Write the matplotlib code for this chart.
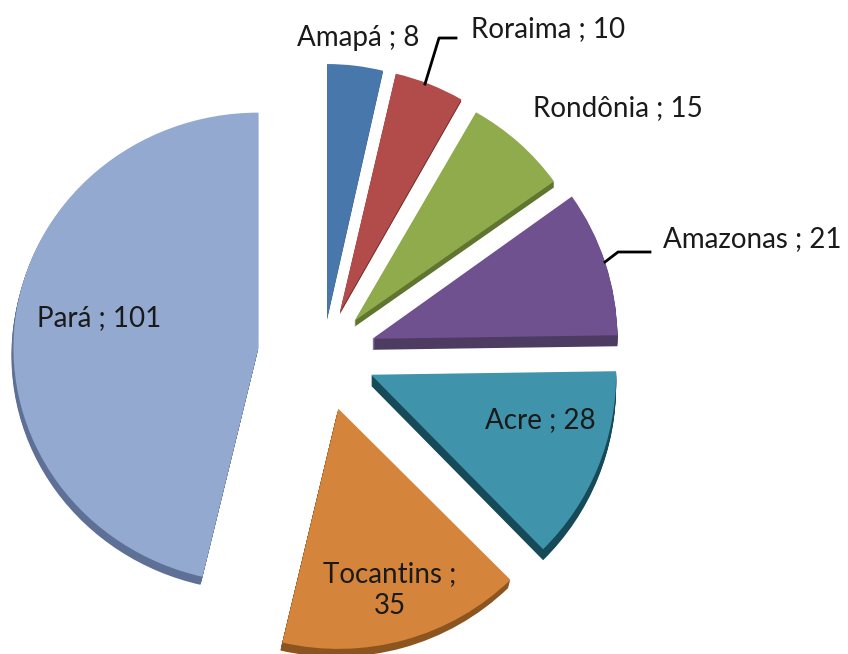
import matplotlib
matplotlib.use("Agg")
import matplotlib.pyplot as plt
from matplotlib.transforms import Affine2D

states = ["Amapá", "Roraima", "Rondônia", "Amazonas", "Acre", "Tocantins", "Pará"]
values = [8, 10, 15, 21, 28, 35, 101]
labels = ["Amapá ; 8", "Roraima ; 10", "Rondônia ; 15", "Amazonas ; 21", "Acre ; 28", "Tocantins ;\n35", "Pará ; 101"]
top_colors = ["#4877AC", "#B24C4A", "#8FAB4B", "#6F5190", "#3F93AA", "#D5843C", "#93A9D0"]
side_colors = ["#2C4D75", "#772C2A", "#5F7530", "#4D3B62", "#174A58", "#8C5520", "#5F7096"]
explode_px = [35, 46, 47, 52, 52, 57, 65]
y_scale = [1.04, 1.0, 0.98, 1.0, 1.0, 0.98, 0.96]
depth_px = [1, 2, 6, 11, 11, 8, 8]
side_dx = [0, 0, 0, 0, 0, -0.25, -0.25]
label_xy = [(358, 38), (548, 29), (618, 108), (752, 239), (540, 420), (390, 590), (99, 318)]

W, H = 848, 654
R = 245
CX, CY = 323, 355

fig = plt.figure(figsize=(W / 100, H / 100), dpi=100, facecolor="white")
ax = fig.add_axes([0, 0, 1, 1])
pie_args = dict(startangle=90, counterclock=False, radius=R, explode=explode_px, frame=True,
                center=(CX, H - CY))
ax.set_xlim(0, W)
ax.set_ylim(0, H)


def slice_transform(i, k=0):
    yc = H - CY
    return (Affine2D().translate(0, -yc).scale(1, y_scale[i]).translate(side_dx[i] * k, yc - k)
            + ax.transData)


for k in range(max(depth_px), 0, -1):
    colors = [c if k <= d else "none" for c, d in zip(side_colors, depth_px)]
    wedges, _ = ax.pie(values, colors=colors, **pie_args)
    for i, w in enumerate(wedges):
        w.set_transform(slice_transform(i, k))
wedges, _ = ax.pie(values, colors=top_colors, **pie_args)
for i, w in enumerate(wedges):
    w.set_transform(slice_transform(i))
ax.set_aspect("auto")
ax.set_xlim(0, W)
ax.set_ylim(0, H)
ax.axis("off")

for text, (x, y) in zip(labels, label_xy):
    ax.text(x, H - y, text, ha="center", va="center", fontsize=20, family="Lato", color="#1a1a1a", linespacing=1.3)

ax.plot([425, 439, 456], [H - 84, H - 38, H - 38], color="black", lw=2)
ax.plot([605, 618, 650], [H - 262, H - 252, H - 252], color="black", lw=2)

fig.savefig("out.png", dpi=100)
